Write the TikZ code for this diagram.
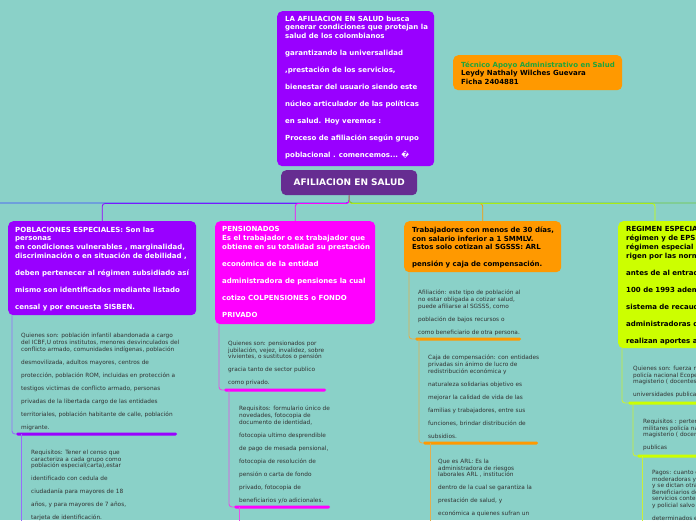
\documentclass[tikz,border=0pt]{standalone}
\usepackage{fontspec}
\setmainfont{DejaVu Sans}
\definecolor{bg}{RGB}{138,209,200}
\definecolor{cpurple}{RGB}{153,0,255}
\definecolor{cmag}{RGB}{255,0,255}
\definecolor{corange}{RGB}{255,153,0}
\definecolor{cyg}{RGB}{204,255,0}
\definecolor{cdark}{RGB}{102,45,145}
\definecolor{cblue}{RGB}{60,70,255}
\definecolor{cgreenline}{RGB}{110,200,60}
\definecolor{cgreen}{RGB}{30,165,60}
\definecolor{txtgray}{RGB}{50,50,50}
\definecolor{lpurple}{RGB}{150,110,250}
\definecolor{lmag}{RGB}{230,80,230}
\definecolor{lorange}{RGB}{225,175,80}
\definecolor{lyg}{RGB}{200,240,60}
\tikzset{
  boxst/.style={draw=none, rounded corners=5pt, inner sep=0pt, anchor=north west},
  bigtxt/.style={anchor=north west, inner sep=0pt, align=left, font=\bfseries\fontsize{7}{8.7}\selectfont},
  smalltxt/.style={anchor=north west, inner sep=0pt, align=left, text=txtgray, font=\fontsize{5.8}{6.6}\selectfont},
  barst/.style={anchor=west, inner sep=0pt, minimum height=3pt, rounded corners=1.5pt},
  link/.style={line width=0.9pt, rounded corners=3pt},
  toplink/.style={line width=0.8pt, rounded corners=3pt},
}
\begin{document}
\begin{tikzpicture}[x=1pt,y=-1pt]
\useasboundingbox (0,0) rectangle (696,520);
\clip (0,0) rectangle (696,520);
\fill[bg] (0,0) rectangle (696,520);

% ---------- top description ----------
\node[boxst, fill=cpurple, minimum width=157pt, minimum height=155pt] (top) at (277,11) {};
\node[bigtxt, text=white] (toptxt) at (285,15.5) {LA AFILIACION EN SALUD busca\\
generar condiciones que protejan la\\
salud de los colombianos\\[8.3pt]
garantizando la universalidad\\[8.3pt]
,prestación de los servicios,\\[8.3pt]
bienestar del usuario siendo este\\[8.3pt]
núcleo articulador de las políticas\\[8.3pt]
en salud. Hoy veremos :\\[8.3pt]
Proceso de afiliación según grupo\\[8.3pt]
poblacional . comencemos... �};

% ---------- author ----------
\node[boxst, fill=corange, minimum width=169pt, minimum height=35pt] (auth) at (453,55) {};
\node[bigtxt, text=black, font=\bfseries\fontsize{7}{8.5}\selectfont] (authtxt) at (461,61.5) {\textcolor{cgreen}{Técnico Apoyo Administrativo en Salud}\\
Leydy Nathaly Wilches Guevara\\
Ficha 2404881};

% ---------- center ----------
\node[boxst, fill=cdark, minimum width=136pt, minimum height=25pt, text=white, font=\bfseries\fontsize{9}{10}\selectfont] (ctr) at (281,170) {AFILIACION EN SALUD};

% ---------- main boxes ----------
\node[boxst, fill=cpurple, minimum width=188pt, minimum height=94pt] (pob) at (8,221) {};
\node[bigtxt, text=white] (pobtxt) at (15,226.5) {POBLACIONES ESPECIALES: Son las\\
personas\\
en condiciones vulnerables , marginalidad,\\
discriminación o en situación de debilidad ,\\[8.3pt]
deben pertenecer al régimen subsidiado así\\[8.3pt]
mismo son identificados mediante listado\\[8.3pt]
censal y por encuesta SISBEN.};

\node[boxst, fill=cmag, minimum width=160pt, minimum height=103pt] (pen) at (215,221) {};
\node[bigtxt, text=white] (pentxt) at (222,226.5) {PENSIONADOS\\
Es el trabajador o ex trabajador que\\
obtiene en su totalidad su prestación\\[8.3pt]
económica de la entidad\\[8.3pt]
administradora de pensiones la cual\\[8.3pt]
cotizo COLPENSIONES o FONDO\\[8.3pt]
PRIVADO};

\node[boxst, fill=corange, minimum width=157pt, minimum height=51pt] (trab) at (404,221) {};
\node[bigtxt, text=black] (trabtxt) at (412,226.5) {Trabajadores con menos de 30 días,\\
con salario inferior a 1 SMMLV.\\
Estos solo cotizan al SGSSS: ARL\\[8.3pt]
pensión y caja de compensación.};

\node[boxst, fill=cyg, minimum width=95pt, minimum height=127pt] (reg) at (618,221) {};
\node[bigtxt, text=black] (regtxt) at (626,226.5) {REGIMEN ESPECIA\\
régimen y de EPS.\\
régimen especial a\\
rigen por las norm\\[8.3pt]
antes de al entrad\\[8.3pt]
100 de 1993 adem\\[8.3pt]
sistema de recaud\\[8.3pt]
administradoras d\\[8.3pt]
realizan aportes a};

% ---------- top connectors ----------
\coordinate (lend) at (0,203);
\coordinate (rend) at (696,203);
\draw[toplink, draw=corange] (ctr.south) -- ++(0,8) -| (trab.north);
\draw[toplink, draw=cyg] (ctr.south) -- ++(0,8) -| ([xshift=37pt]reg.north west);
\draw[toplink, draw=cpurple] (ctr.south) -- ++(0,8) -| (pob.north);
\draw[toplink, draw=cblue] (ctr.south) |- (lend);
\draw[toplink, draw=cmag] (ctr.south) -- ++(0,8) -| (pen.north);
\draw[toplink, draw=cgreenline] (ctr.south) |- (rend);

% ---------- POBLACIONES children ----------
\node[barst, fill=cpurple, minimum width=161pt] (pbar1) at (16,434) {};
\node[smalltxt] (ptx1) at (21,333) {Quienes son: población infantil abandonada a cargo\\
del ICBF,U otros institutos, menores desvinculados del\\
conflicto armado, comunidades indígenas, población\\[6.4pt]
desmovilizada, adultos mayores, centros de\\[6.4pt]
protección, población ROM, incluidas en protección a\\[6.4pt]
testigos victimas de conflicto armado, personas\\[6.4pt]
privadas de la libertada cargo de las entidades\\[6.4pt]
territoriales, población habitante de calle, población\\[6.4pt]
migrante.};
\draw[link, draw=lpurple] ([xshift=4pt]pob.south west) |- (pbar1.west);
\node[smalltxt] (ptx2) at (31,450) {Requisitos: Tener el censo que\\
caracteriza a cada grupo como\\
población especial(carta),estar\\[6.4pt]
identificado con cedula de\\[6.4pt]
ciudadanía para mayores de 18\\[6.4pt]
años, y para mayores de 7 años,\\[6.4pt]
tarjeta de identificación.};
\coordinate (pend) at (21,530);
\draw[link, draw=lpurple] ([xshift=5pt]pbar1.west) -- (pend);

% ---------- PENSIONADOS children ----------
\node[barst, fill=cmag, minimum width=102pt] (nbar1) at (224,390) {};
\node[smalltxt] (ntx1) at (228,341) {Quienes son: pensionados por\\
jubilación, vejez, invalidez, sobre\\
vivientes, o sustitutos o pensión\\[6.4pt]
gracia tanto de sector publico\\[6.4pt]
como privado.};
\draw[link, draw=lmag] ([xshift=4pt]pen.south west) |- (nbar1.west);
\node[barst, fill=cmag, minimum width=96pt] (nbar2) at (234,507) {};
\node[smalltxt] (ntx2) at (239,406) {Requisitos: formulario único de\\
novedades, fotocopia de\\
documento de identidad,\\[6.4pt]
fotocopia ultimo desprendible\\[6.4pt]
de pago de mesada pensional,\\[6.4pt]
fotocopia de resolución de\\[6.4pt]
pensión o carta de fondo\\[6.4pt]
privado, fotocopia de\\[6.4pt]
beneficiarios y/o adicionales.};
\draw[link, draw=lmag] ([xshift=5pt]nbar1.west) |- (nbar2.west);
\coordinate (nend) at (239,530);
\draw[link, draw=lmag] ([xshift=5pt]nbar2.west) -- (nend);

% ---------- TRABAJADORES children ----------
\node[barst, fill=corange, minimum width=106pt] (tbar1) at (415,339) {};
\node[smalltxt] (ttx1) at (418,290) {Afiliación: este tipo de población al\\
no estar obligada a cotizar salud,\\
puede afiliarse al SGSSS, como\\[6.4pt]
población de bajos recursos o\\[6.4pt]
como beneficiario de otra persona.};
\draw[link, draw=lorange] ([xshift=5pt]trab.south west) |- (tbar1.west);
\node[barst, fill=corange, minimum width=115pt] (tbar2) at (423,443) {};
\node[smalltxt] (ttx2) at (428,355) {Caja de compensación: con entidades\\
privadas sin ánimo de lucro de\\
redistribución económica y\\[6.4pt]
naturaleza solidarias objetivo es\\[6.4pt]
mejorar la calidad de vida de las\\[6.4pt]
familias y trabajadores, entre sus\\[6.4pt]
funciones, brindar distribución de\\[6.4pt]
subsidios.};
\draw[link, draw=lorange] ([xshift=4pt]tbar1.west) |- (tbar2.west);
\node[smalltxt] (ttx3) at (438,459) {Que es ARL: Es la\\
administradora de riesgos\\
laborales ARL , institución\\[6.4pt]
dentro de la cual se garantiza la\\[6.4pt]
prestación de salud, y\\[6.4pt]
económica a quienes sufran un};
\coordinate (tend) at (430,530);
\draw[link, draw=lorange] ([xshift=7pt]tbar2.west) -- (tend);

% ---------- REGIMEN children ----------
\node[barst, fill=cyg, minimum width=80pt] (rbar1) at (628,403) {};
\node[smalltxt] (rtx1) at (633,366) {Quienes son: fuerza mi\\
policía nacional Ecopet\\
magisterio ( docentes)\\[6.4pt]
universidades publicas};
\draw[link, draw=lyg] ([xshift=4pt]reg.south west) |- (rbar1.west);
\node[barst, fill=cyg, minimum width=70pt] (rbar2) at (637,456) {};
\node[smalltxt] (rtx2) at (643,419) {Requisitos : pertene\\
militares policía nac\\
magisterio ( docent\\[6.4pt]
publicas};
\draw[link, draw=lyg] ([xshift=5pt]rbar1.west) |- (rbar2.west);
\node[smalltxt] (rtx3) at (652,470) {Pagos: cuanto c\\
moderadoras y\\
y se dictan otra\\
Beneficiarios de\\
servicios conten\\
y policial salvo l\\[6.4pt]
determinados e};
\coordinate (rend2) at (642,530);
\draw[link, draw=lyg] ([xshift=5pt]rbar2.west) -- (rend2);
\end{tikzpicture}
\end{document}
